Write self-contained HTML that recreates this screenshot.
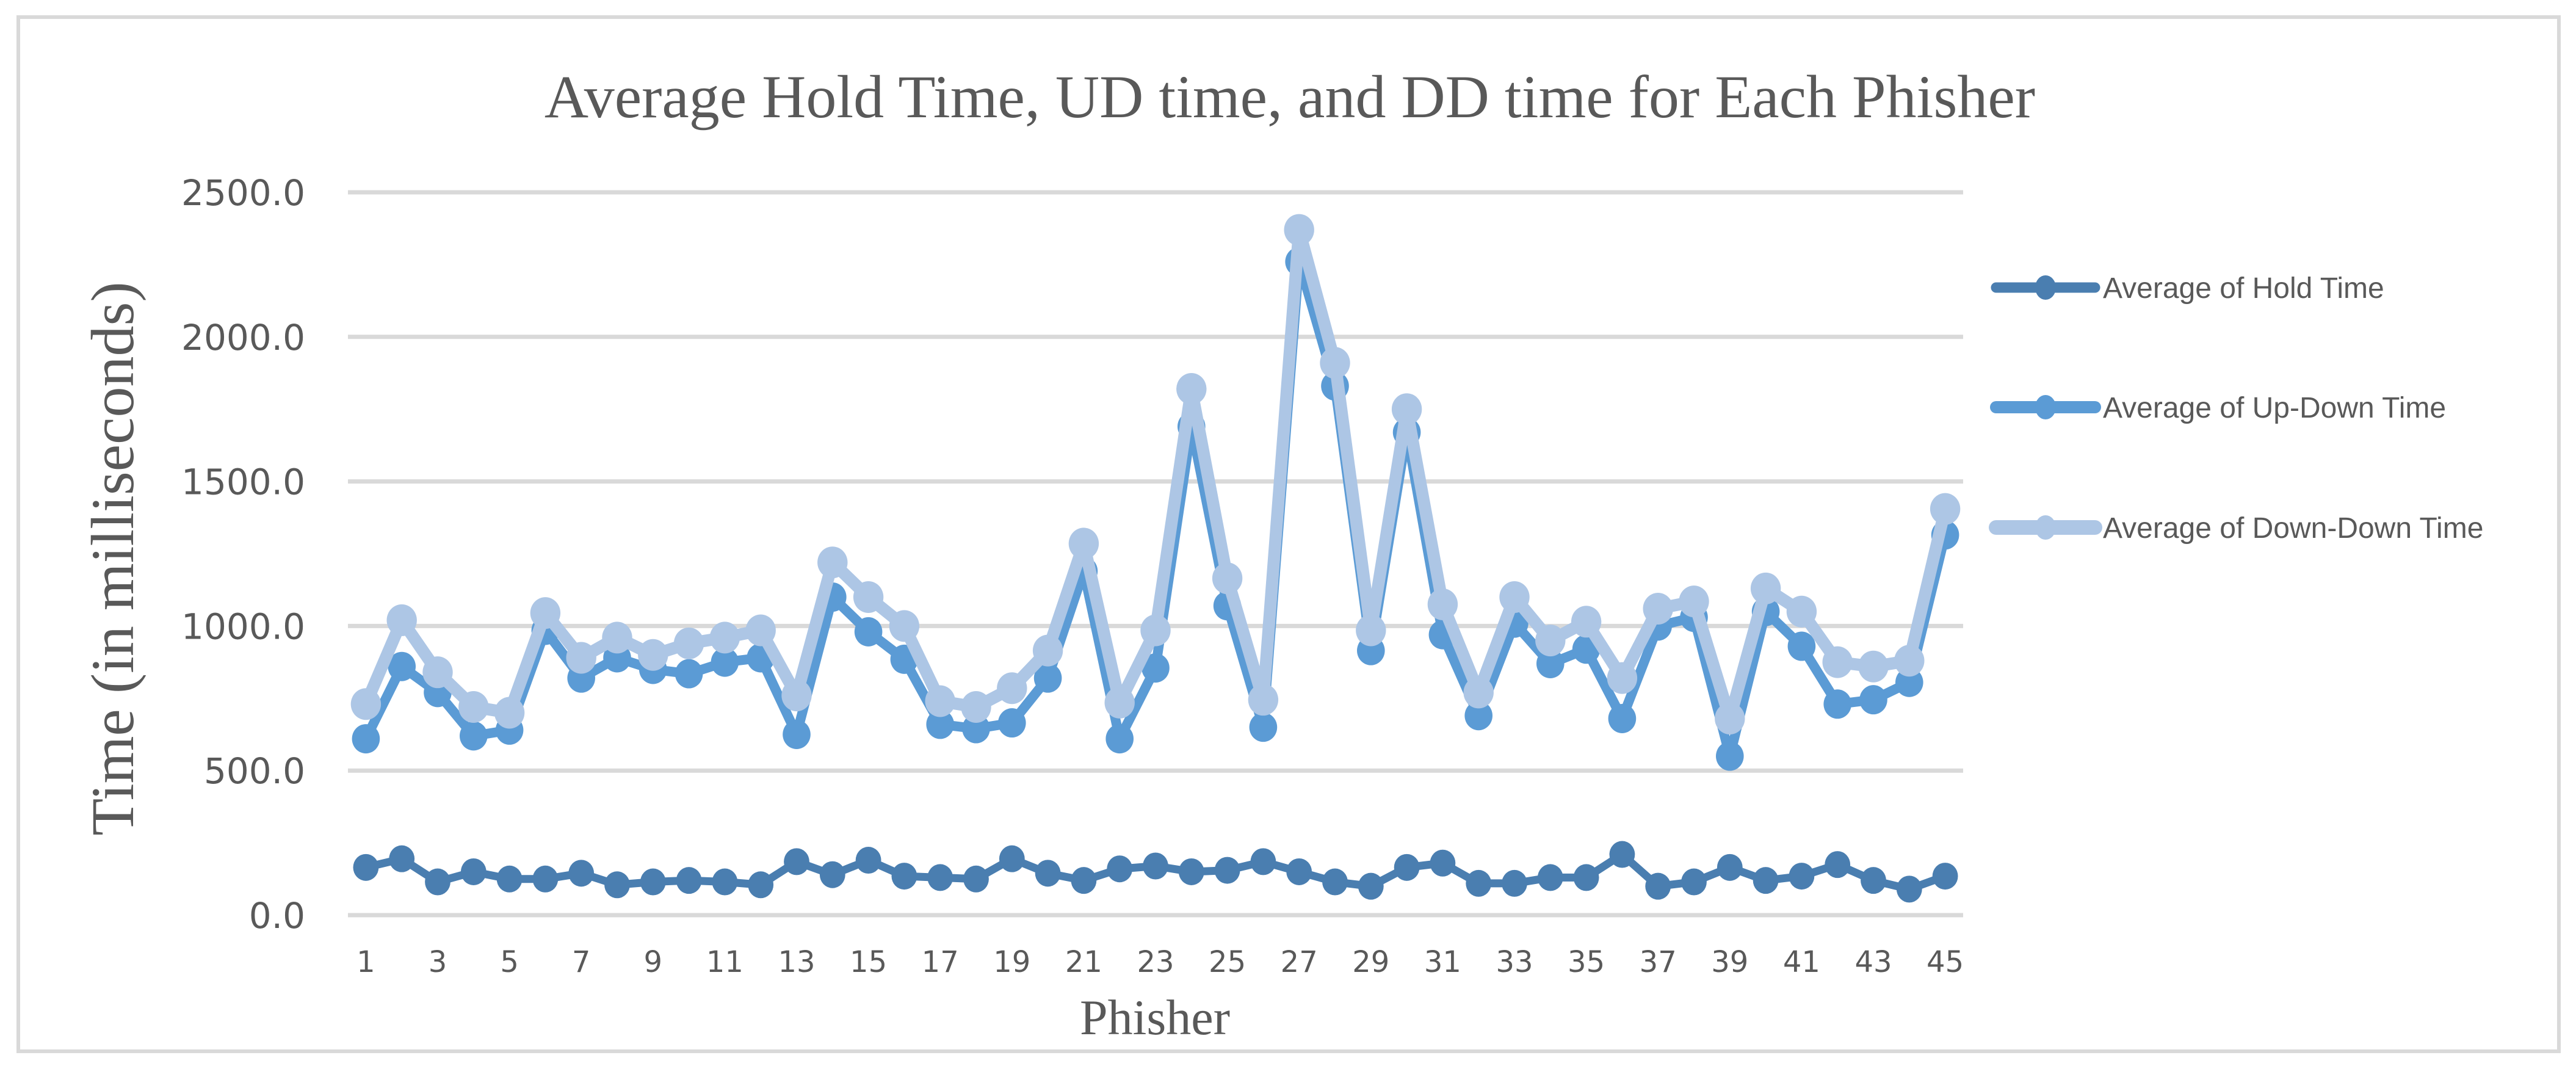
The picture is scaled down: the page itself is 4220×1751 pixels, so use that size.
<!DOCTYPE html>
<html><head><meta charset="utf-8"><style>
html,body{margin:0;padding:0;background:#fff;}
svg{display:block;}
</style></head><body>
<svg id="chart" width="4220" height="1751" viewBox="0 0 4220 1751" xmlns="http://www.w3.org/2000/svg">
<rect x="30" y="28" width="4162" height="1694" fill="#fff" stroke="#d9d9d9" stroke-width="6"/>
<text x="2113" y="192" text-anchor="middle" font-family="Liberation Serif, serif" font-size="100" fill="#595959">Average Hold Time, UD time, and DD time for Each Phisher</text>
<text transform="translate(218,915) rotate(-90)" text-anchor="middle" font-family="Liberation Serif, serif" font-size="100" fill="#595959">Time (in milliseconds)</text>
<text x="1892" y="1694" text-anchor="middle" font-family="Liberation Serif, serif" font-size="82" fill="#595959">Phisher</text>
<g id="grid"></g><g id="yticks"></g><g id="xticks"></g><g id="series"></g><g id="legend"></g>
</svg>
<script>
const categories = [];
for (let i = 1; i <= 45; i++) categories.push(i);
const holdTime = [165,195,115,150,125,125,145,105,115,120,115,105,185,140,190,135,130,125,195,145,120,160,170,150,155,185,150,115,100,165,180,110,110,130,130,210,100,115,165,120,135,175,120,90,135];
const upDownTime = [610,860,770,620,640,985,820,890,850,835,875,890,625,1100,980,885,660,645,665,820,1190,610,855,1690,1070,650,2260,1830,915,1670,970,690,1010,870,920,680,1000,1030,550,1050,930,730,745,805,1315];
const downDownTime = [730,1020,840,720,700,1045,890,960,900,940,960,985,760,1220,1100,1000,740,720,785,915,1285,735,985,1820,1165,745,2370,1910,985,1750,1075,770,1100,950,1015,820,1060,1085,680,1130,1050,875,860,880,1405];
const yTicks = [0,500,1000,1500,2000,2500];
const yTickLabels = ["0.0","500.0","1000.0","1500.0","2000.0","2500.0"];
const seriesNames = ["Average of Hold Time","Average of Up-Down Time","Average of Down-Down Time"];

const NS = "http://www.w3.org/2000/svg";
const L = 570, R = 3216, Y0 = 1499, Y1 = 315;
const yMax = 2500;
function y(v){ return Y0 - (v / yMax) * (Y0 - Y1); }
function x(i){ const step = (R - L) / categories.length; return L + step * (i + 0.5); }
function mk(tag, attrs, parent){ const e = document.createElementNS(NS, tag); for (const k in attrs) e.setAttribute(k, attrs[k]); parent.appendChild(e); return e; }

const grid = document.getElementById('grid');
const yt = document.getElementById('yticks');
yTicks.forEach((t, i) => {
  const g = mk('line', {x1:L, x2:R, y1:y(t), y2:y(t), stroke:'#d9d9d9', 'stroke-width':7}, grid);
  
  
  const tx = mk('text', {x:500, y:y(t)+21, 'text-anchor':'end', 'font-family':'DejaVu Sans, sans-serif', 'font-size':58, fill:'#595959'}, yt);
  tx.textContent = yTickLabels[i];
  
  
});
const xt = document.getElementById('xticks');
categories.forEach((c, i) => {
  if (i % 2 !== 0) return;
  const tx = mk('text', {x:x(i), y:1592, 'text-anchor':'middle', 'font-family':'DejaVu Sans, sans-serif', 'font-size':48, fill:'#595959'}, xt);
  tx.textContent = c;
  
  
});

const seriesData = [holdTime, upDownTime, downDownTime];
const colors = ['#4a7eb0','#5b9bd5','#adc6e5'];
const widths = [13, 16, 20];
const radii = [22, 24, 26];
const sg = document.getElementById('series');
seriesData.forEach((d, s) => {
  const g = mk('g', {}, sg);
  
  
  const pts = d.map((v, i) => x(i) + ',' + y(v)).join(' ');
  const pl = mk('polyline', {points:pts, fill:'none', stroke:colors[s], 'stroke-width':widths[s], 'stroke-linejoin':'round'}, g);
  
  
  d.forEach((v, i) => {
    const c = mk('ellipse', {cx:x(i), cy:y(v), rx:radii[s]*0.95, ry:radii[s], fill:colors[s]}, g);
    
    
  });
});

const lg = document.getElementById('legend');
const legY = [471, 667, 864];
seriesNames.forEach((n, s) => {
  const g = mk('g', {}, lg);
  
  
  mk('line', {x1:3270, x2:3432, y1:legY[s], y2:legY[s], stroke:colors[s], 'stroke-width':widths[s]+4, 'stroke-linecap':'round'}, g);
  mk('ellipse', {cx:3351, cy:legY[s], rx:17, ry:20, fill:colors[s]}, g);
  const t = mk('text', {x:3445, y:legY[s]+17, 'font-family':'Liberation Sans Narrow, Liberation Sans, sans-serif', 'font-size':48, fill:'#595959'}, g);
  t.textContent = n;
});
</script>
</body></html>
